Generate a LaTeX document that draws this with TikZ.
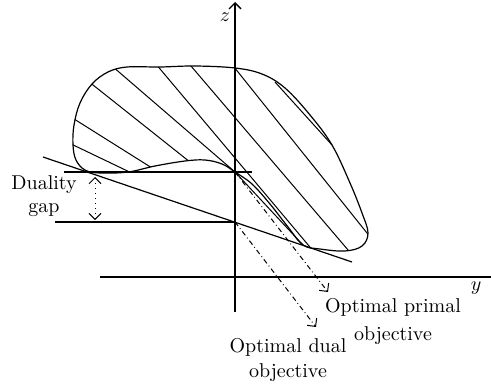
\documentclass[tikz,border=0pt]{standalone}
\usepackage{amsmath}
\usepackage{tikz}
\usetikzlibrary{arrows.meta, calc}

\begin{document}
\begin{tikzpicture}[
        x=0.5pt, y=-0.5pt,
        axis/.style={line width=0.7pt},
        curve/.style={line width=0.6pt},
        hatch/.style={line width=0.5pt},
        level/.style={line width=0.6pt},
        barb/.style={Straight Barb[length=3pt, width=6pt]},
        optarrow/.style={-{Straight Barb[length=3pt, width=6pt]}, line width=0.5pt, dash pattern=on 2.5pt off 1.5pt on 0.4pt off 1.5pt},
        gaparrow/.style={{Straight Barb[length=3pt, width=6pt]}-{Straight Barb[length=3pt, width=6pt]}, line width=0.5pt, dotted},
        lbl/.style={inner sep=0pt, align=center, font=\fontsize{10}{11.5}\selectfont}
    ]
    \useasboundingbox (0,0) rectangle (491,385);

    % Points
    \coordinate (primal) at (235,172);
    \coordinate (dual) at (235,222);
    \coordinate (zbot) at (235,312);
    \coordinate (ztop) at (235,2);
    \coordinate (yleft) at (100,277);
    \coordinate (yright) at (491,277);
    \coordinate (primL) at (64,172);
    \coordinate (primR) at (252,172);
    \coordinate (dualL) at (55,222);
    \coordinate (tanL) at (43,157);
    \coordinate (tanR) at (352,262);
    \coordinate (gaptop) at (95,177);
    \coordinate (gapbot) at (95,220);
    \coordinate (primtip) at (328,292);
    \coordinate (dualtip) at (316,327);

    % Axes
    \draw[axis, -{Straight Barb[length=3pt, width=6pt]}] (zbot) -- (ztop);
    \draw[axis] (yleft) -- (yright);
    \node[lbl] (zlabel) at (225,17) {$z$};
    \node[lbl] (ylabel) at (476,288) {$y$};

    % Feasible set
    \draw[curve, save path=\blobpath] plot[smooth cycle, tension=0.6] coordinates {
        (73,145) (74,125) (80,103) (92,84) (108,72) (127,67) (160,67) (195,66)
        (235,68) (262,74) (285,88) (310,115) (332,145) (350,183) (362,213)
        (368,233) (362,246) (345,251) (320,249) (303,245) (288,227) (270,204)
        (252,184) (235,172) (222,164) (205,160) (185,161) (155,166) (128,172)
        (100,173) (85,170) (76,160)};

    % Hatching
    \begin{scope}
        \clip[use path=\blobpath];
        \draw[hatch] (68,142.5) -- (140,177);
        \draw[hatch] (72,117.7) -- (160,173);
        \draw[hatch] (88,81) -- (200,170);
        \draw[hatch] (110,64.3) -- (primal);
        \draw[hatch] (150,57) -- (320,259);
        \draw[hatch] (185,59) -- (360,264);
        \draw[hatch] (230,62) -- (375,243);
    \end{scope}
    \draw[hatch] (275,82) -- (332,145);
    \draw[hatch] (primal) -- (303,245);

    % Primal and dual levels
    \draw[level] (primL) -- (primR);
    \draw[level] (dualL) -- (dual);
    \draw[level] (tanL) -- (tanR);

    % Duality gap
    \draw[gaparrow] (gaptop) -- (gapbot);
    \node[lbl] (gaplabel) at (44,196) {Duality\\gap};

    % Optimal values
    \draw[optarrow] (primal) -- (primtip);
    \draw[optarrow] (dual) -- (dualtip);
    \node[lbl] (primlabel) at (393,321) {Optimal primal\\[2.5pt]objective};
    \node[lbl] (duallabel) at (288,360) {Optimal dual\\[1pt]objective};

\end{tikzpicture}
\end{document}
